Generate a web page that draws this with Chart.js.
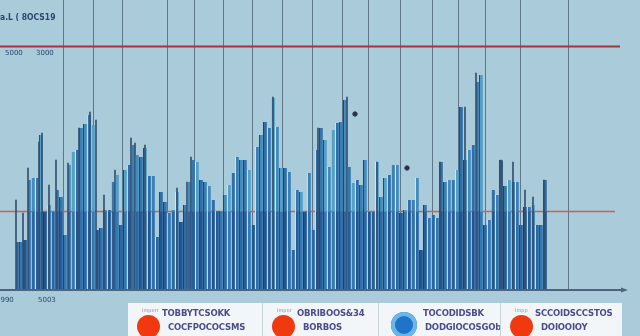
<!DOCTYPE html>
<html><head><meta charset="utf-8">
<script src="https://cdn.jsdelivr.net/npm/chart.js@4"></script>
<style>
html,body{margin:0;padding:0;background:#a9cbda;}
#wrap{position:relative;width:640px;height:336px;overflow:hidden;background:#a9cbda;font-family:"DejaVu Sans",sans-serif;}
#c{position:absolute;left:0;top:0;}
.t{position:absolute;white-space:nowrap;color:#2e4570;font-weight:bold;}
#legend{position:absolute;left:128px;top:303px;width:494px;height:40px;background:#f3f6f8;}
.cell{position:absolute;top:0;height:40px;border-left:1px solid #c9d3da;}
.dot{position:absolute;border-radius:50%;}
.l1,.l2{position:absolute;white-space:nowrap;color:#4b4c8c;font-weight:bold;font-size:8.5px;letter-spacing:-0.2px;}
.tiny{position:absolute;white-space:nowrap;color:#8d93a6;font-size:5px;}
</style></head>
<body>
<div id="wrap">
<canvas id="c" width="640" height="336"></canvas>
<div class="t" style="left:0;top:12px;font-size:8.5px;font-family:'DejaVu Sans Condensed','DejaVu Sans',sans-serif;">a.L ( 8OCS19</div>
<div class="t" style="left:5px;top:49px;font-size:7px;font-weight:normal;">5000</div>
<div class="t" style="left:36px;top:49px;font-size:7px;font-weight:normal;">3000</div>
<div class="t" style="left:-4px;top:296px;font-size:7px;font-weight:normal;">3990</div>
<div class="t" style="left:38px;top:296px;font-size:7px;font-weight:normal;">5003</div>
<div id="legend"></div>
</div>
<script>
// ---- data ----
const barValues = [47,47,49,109,111,111,154,77,84,77,99,92,54,124,137,139,161,165,174,164,
59,61,79,79,107,114,64,119,124,144,134,132,141,113,113,52,97,87,76,79,
97,67,84,107,129,127,109,107,103,89,78,78,94,104,116,132,129,129,119,64,
142,154,167,161,191,162,121,121,117,39,99,97,77,116,59,139,161,149,122,159,
166,167,189,122,106,109,104,129,77,77,127,92,111,114,124,124,76,79,89,89,
111,39,84,71,74,71,127,107,109,109,119,182,129,139,144,207,214,64,69,99,
94,129,103,109,107,107,64,82,82,84,64,64,109];
const spikeIndex  = [-0.25,1.5,2.75,5.5,6.25,8,9.75,12.75,15.5,18.25,19.75,21.75,24.5,28.5,29.5,32,40,42.5,43.5,64,75.25,82.5,90,105.75,112,114.75,121,121.25,124,127,129,131.75];
const spikeValues = [89,76,121,147,156,104,129,126,161,177,169,94,119,151,146,144,101,107,132,192,161,192,127,127,182,216,129,128,127,99,92,109];
const dotIndex  = [84.5,97.5];
const dotValues = [175,121];
const refLevels = [243,78];
const legendItems = [
  {tiny:"Imperr", l1:"TOBBYTCSOKK", l2:"COCFPOCOCSMS", color:"#f0390f"},
  {tiny:"Impnr", l1:"OBRIBOOS&34", l2:"BORBOS", color:"#f0390f"},
  {tiny:"", l1:"TOCODIDSBK", l2:"DODGIOCOSGOb", color:"#2f86d6"},
  {tiny:"Impp", l1:"SCCOIDSCCSTOS", l2:"DOIOOIOY", color:"#f0390f"}
];

// ---- layout helpers (pixel positions of grid lines) ----
const gridPx = [63,93,122,167,194,223,252,282,312,342,368,400,432,458,485,520,568];
const pxToIdx = p => (p-17)/4;

const shadesTop = ['#438bbd','#2f6ea8','#52a0ca','#3a80b7','#3576ae'];
const shadesBot = ['#2b67a5','#1f5591','#3378b3','#2e6fad','#245d9a'];
const pattern = [0,2,1,3,0,4,2,1,3,0,1,4,2];
const edgeColors = ['rgba(236,244,250,0.9)','#1c3c63','rgba(0,0,0,0)','#23476f','rgba(236,244,250,0.7)'];
const gradCache = {};
function barColor(ctx){
  const ca = ctx.chart.chartArea;
  const k = pattern[ctx.dataIndex % pattern.length];
  if(!ca) return shadesBot[k];
  const key = k+'_'+ca.top+'_'+ca.bottom;
  if(gradCache[key]) return gradCache[key];
  const ys = ctx.chart.scales.y;
  const split = (ys.getPixelForValue(refLevels[1]) - ca.top)/(ca.bottom-ca.top);
  const g = ctx.chart.ctx.createLinearGradient(0,ca.top,0,ca.bottom);
  g.addColorStop(0,shadesTop[k]);
  g.addColorStop(split,shadesTop[k]);
  g.addColorStop(Math.min(1,split+0.005),shadesBot[k]);
  g.addColorStop(1,shadesBot[k]);
  gradCache[key]=g;
  return g;
}

const refPlugin = {
  id:'refs',
  beforeDatasetsDraw(chart){
    const c = chart.ctx, y = chart.scales.y;
    c.save();
    c.strokeStyle='#a8333a'; c.lineWidth=2;
    let py = Math.round(y.getPixelForValue(refLevels[0]))+0.5;
    c.beginPath(); c.moveTo(0,py); c.lineTo(620,py); c.stroke();
    c.strokeStyle='#d0604a'; c.lineWidth=1.3;
    py = Math.round(y.getPixelForValue(refLevels[1]))+0.5;
    c.beginPath(); c.moveTo(0,py); c.lineTo(615,py); c.stroke();
    c.restore();
  },
  afterDatasetsDraw(chart){
    const c = chart.ctx, ca = chart.chartArea;
    c.save();
    c.strokeStyle='#4d6479'; c.lineWidth=2;
    c.beginPath(); c.moveTo(0,ca.bottom+1); c.lineTo(624,ca.bottom+1); c.stroke();
    c.fillStyle='#4d6479';
    c.beginPath(); c.moveTo(628,ca.bottom+1); c.lineTo(621,ca.bottom-1.5); c.lineTo(621,ca.bottom+3.5); c.closePath(); c.fill();
    c.restore();
  }
};

new Chart(document.getElementById('c'),{
  type:'bar',
  data:{
    datasets:[
      {type:'scatter',data:dotIndex.map((x,i)=>({x,y:dotValues[i]})),pointRadius:2.2,backgroundColor:'#2a3644',borderColor:'#2a3644',order:0},
      {type:'bar',data:spikeIndex.map((x,i)=>({x,y:spikeValues[i]})),barThickness:1,backgroundColor:'#34506e',borderWidth:0,grouped:false,order:1},
      {type:'bar',data:barValues.map((v,i)=>({x:i,y:v})),barThickness:3.6,backgroundColor:barColor,
       borderWidth:{left:1,right:0,top:0,bottom:0},borderSkipped:false,
       borderColor:ctx=>edgeColors[(ctx.dataIndex*3)%edgeColors.length],grouped:false,order:2}
    ]
  },
  options:{
    responsive:false,animation:false,
    layout:{padding:0,autoPadding:false},
    plugins:{legend:{display:false},tooltip:{enabled:false}},
    scales:{
      x:{type:'linear',min:-4.25,max:155.75,display:true,offset:false,
         ticks:{display:false},border:{display:false},
         grid:{color:'#5f7689',lineWidth:1,drawTicks:false,offset:false},
         afterBuildTicks:s=>{s.ticks=gridPx.map(p=>({value:pxToIdx(p)}));},
         afterFit:s=>{s.height=47;}},
      y:{min:0,max:289,display:false}
    }
  },
  plugins:[refPlugin]
});

// legend (HTML)
const lg = document.getElementById('legend');
const cellX = [0,134,250,372];
legendItems.forEach((it,i)=>{
  const d = document.createElement('div');
  d.className='cell';
  d.style.left=cellX[i]+'px';
  if(i===0) d.style.borderLeft='none';
  const dot = document.createElement('div');
  dot.className='dot';
  if(i===2){
    dot.style.cssText='left:12px;top:9px;width:26px;height:26px;background:#1f74c8;box-shadow:0 0 0 4px #6ab6ea inset;';
  } else {
    dot.style.cssText='left:9px;top:12px;width:23px;height:23px;background:'+it.color+';';
  }
  d.appendChild(dot);
  if(it.tiny){const t=document.createElement('div');t.className='tiny';t.textContent=it.tiny;t.style.left='14px';t.style.top='4px';d.appendChild(t);}
  const a=document.createElement('div');a.className='l1';a.textContent=it.l1;a.style.left=(i===2?'44px':'34px');a.style.top='5px';d.appendChild(a);
  const b=document.createElement('div');b.className='l2';b.textContent=it.l2;b.style.left=(i===2?'46px':'40px');b.style.top='19px';d.appendChild(b);
  lg.appendChild(d);
});
</script>
</body></html>
